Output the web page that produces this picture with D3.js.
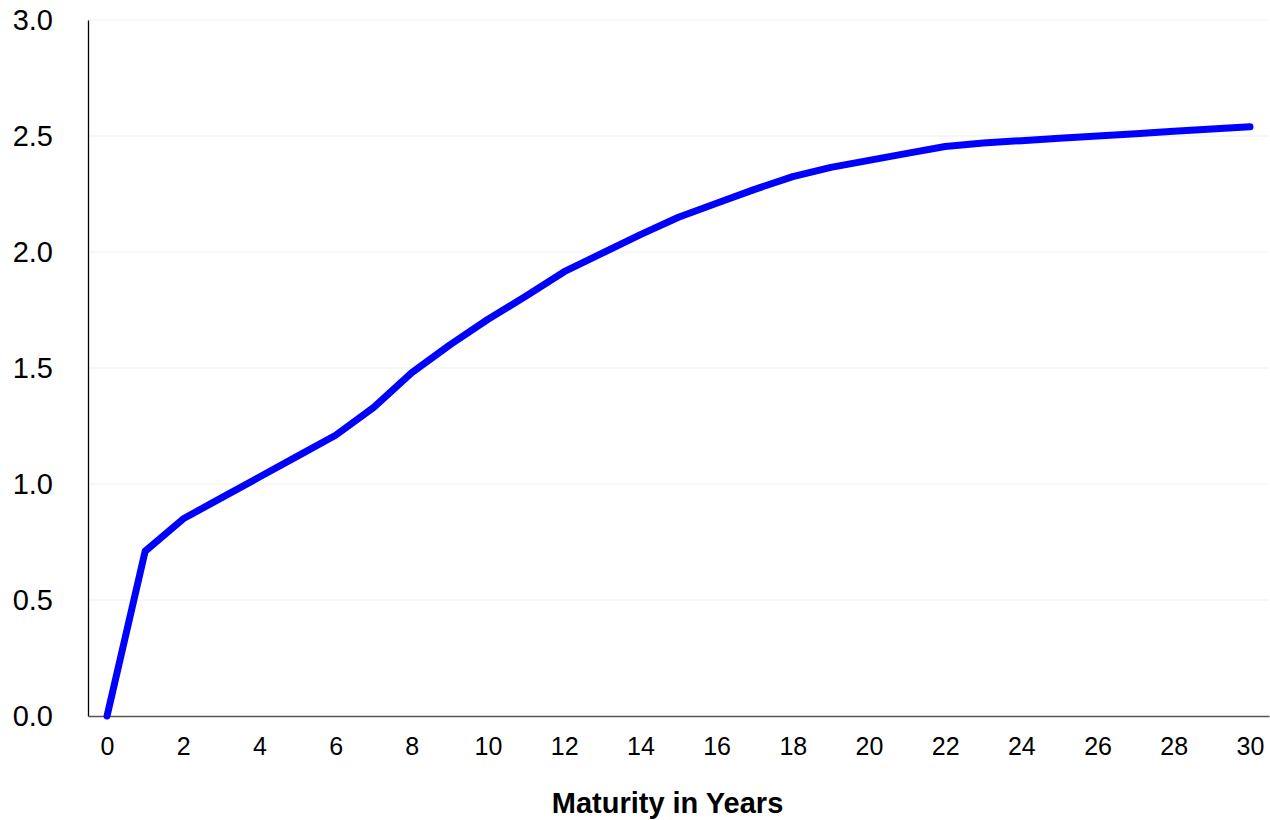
<!DOCTYPE html>
<html>
<head>
<meta charset="utf-8">
<script src="https://cdn.jsdelivr.net/npm/d3@7"></script>
<style>
  html, body { margin: 0; padding: 0; background: #ffffff; }
  svg { display: block; }
</style>
</head>
<body>
<svg id="chart" width="1270" height="820"></svg>
<script>
// Data
const maturities = [0,1,2,3,4,5,6,7,8,9,10,11,12,13,14,15,16,17,18,19,20,21,22,23,24,25,26,27,28,29,30];
const yields = [0,0.71,0.85,0.94,1.03,1.12,1.21,1.33,1.48,1.60,1.71,1.81,1.915,1.995,2.075,2.15,2.21,2.27,2.325,2.365,2.395,2.425,2.455,2.47,2.48,2.49,2.50,2.51,2.52,2.53,2.54];
const xTickValues = [0,2,4,6,8,10,12,14,16,18,20,22,24,26,28,30];
const yTickValues = [0,0.5,1.0,1.5,2.0,2.5,3.0];
const xAxisTitle = "Maturity in Years";

const svg = d3.select("#chart");
const mLeft = 88, mRight = 1269, mTop = 20, mBottom = 716;
const fontFam = "Liberation Sans, Arial, sans-serif";

const x = d3.scaleLinear().domain([-0.5, 30.5]).range([mLeft, mRight]);
const y = d3.scaleLinear().domain([0, 3]).range([mBottom, mTop]);

// gridlines
svg.append("g")
  .selectAll("line")
  .data(yTickValues.filter(d => d > 0))
  .join("line")
  .attr("x1", mLeft).attr("x2", mRight)
  .attr("y1", d => y(d)).attr("y2", d => y(d))
  .attr("stroke", "#efefef").attr("stroke-width", 1);

// y axis
const yAxis = svg.append("g")
  .attr("transform", `translate(${mLeft},0)`)
  .call(d3.axisLeft(y).tickValues(yTickValues).tickFormat(d3.format(".1f")).tickSize(0).tickPadding(35));
yAxis.select(".domain").attr("stroke", "#000").attr("stroke-width", 1.3);
yAxis.selectAll("text")
  .attr("font-family", fontFam)
  .attr("font-size", 29).attr("fill", "#000");

// x axis
const xAxis = svg.append("g")
  .attr("transform", `translate(0,${mBottom})`)
  .call(d3.axisBottom(x).tickValues(xTickValues).tickFormat(d3.format("d")).tickSize(0).tickPadding(21));
xAxis.select(".domain").attr("stroke", "#555").attr("stroke-width", 1.5);
xAxis.selectAll("text")
  .attr("font-family", fontFam)
  .attr("font-size", 25).attr("fill", "#000");

// axis title
svg.append("text")
  .attr("x", (mLeft + mRight) / 2 - 11)
  .attr("y", 813)
  .attr("text-anchor", "middle")
  .attr("font-family", fontFam)
  .attr("font-weight", "bold")
  .attr("font-size", 29)
  .attr("fill", "#000")
  .text(xAxisTitle);

// line
const line = d3.line()
  .x((d, i) => x(maturities[i]))
  .y(d => y(d));

svg.append("path")
  .datum(yields)
  .attr("d", line)
  .attr("fill", "none")
  .attr("stroke", "#0000ff")
  .attr("stroke-width", 7)
  .attr("stroke-linejoin", "round")
  .attr("stroke-linecap", "round");
</script>
</body>
</html>
